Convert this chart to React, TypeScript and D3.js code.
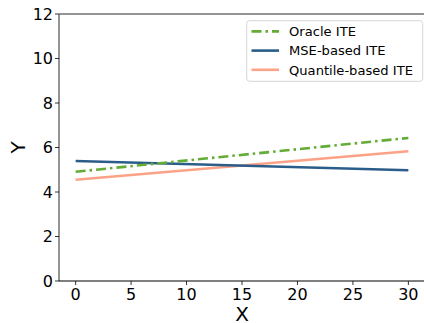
import { useEffect, useRef } from "react";
import * as d3 from "d3";

const xs = [0, 30];
const oracleITE = [4.91, 6.43];
const mseITE = [5.39, 4.98];
const quantileITE = [4.55, 5.83];

const xTicks = [0, 5, 10, 15, 20, 25, 30];
const yTicks = [0, 2, 4, 6, 8, 10, 12];

const seriesNames = ["Oracle ITE", "MSE-based ITE", "Quantile-based ITE"];

export default function App() {
  const ref = useRef<SVGSVGElement | null>(null);

  useEffect(() => {
    if (!ref.current) return;
    const width = 424;
    const height = 323;
    const margin = { top: 14, right: -1, bottom: 42, left: 59 };

    const svg = d3.select(ref.current).attr("width", width).attr("height", height);
    svg.selectAll("*").remove();

    const font = "DejaVu Sans, sans-serif";

    const x = d3.scaleLinear().domain([-1.5, 31.5]).range([margin.left, width - margin.right]);
    const y = d3.scaleLinear().domain([0, 12]).range([height - margin.bottom, margin.top]);

    // spines (top and left grey, bottom black)
    svg.append("line")
      .attr("x1", x(-1.5)).attr("x2", width)
      .attr("y1", y(12)).attr("y2", y(12))
      .attr("stroke", "#707070").attr("stroke-width", 1.5);
    svg.append("line")
      .attr("x1", x(-1.5)).attr("x2", x(-1.5))
      .attr("y1", y(12)).attr("y2", y(0))
      .attr("stroke", "#707070").attr("stroke-width", 1.5);
    svg.append("line")
      .attr("x1", x(-1.5)).attr("x2", width)
      .attr("y1", y(0)).attr("y2", y(0))
      .attr("stroke", "#000").attr("stroke-width", 1.2);

    // x ticks
    const xg = svg.append("g");
    xTicks.forEach(t => {
      xg.append("line")
        .attr("x1", x(t)).attr("x2", x(t))
        .attr("y1", y(0)).attr("y2", y(0) + 4)
        .attr("stroke", "#000").attr("stroke-width", 0.8);
      xg.append("text")
        .attr("x", x(t)).attr("y", y(0) + 18.5)
        .attr("text-anchor", "middle")
        .attr("font-family", font).attr("font-size", 16)
        .attr("fill", "#000")
        .text(t);
    });

    // y ticks
    const yg = svg.append("g");
    yTicks.forEach(t => {
      yg.append("line")
        .attr("x1", x(-1.5) - 4).attr("x2", x(-1.5))
        .attr("y1", y(t)).attr("y2", y(t))
        .attr("stroke", "#000").attr("stroke-width", 0.8);
      yg.append("text")
        .attr("x", x(-1.5) - 6).attr("y", y(t))
        .attr("dy", "0.36em")
        .attr("text-anchor", "end")
        .attr("font-family", font).attr("font-size", 16)
        .attr("fill", "#000")
        .text(t);
    });

    // axis labels
    svg.append("text")
      .attr("x", x(15)).attr("y", y(0) + 39.5)
      .attr("text-anchor", "middle")
      .attr("font-family", font).attr("font-size", 20)
      .text("X");
    svg.append("text")
      .attr("transform", `translate(24.5, ${y(6)}) rotate(-90)`)
      .attr("text-anchor", "middle")
      .attr("font-family", font).attr("font-size", 20)
      .text("Y");

    // lines
    const line = d3.line<[number, number]>()
      .x(d => x(d[0]))
      .y(d => y(d[1]));

    const styles = [
      { vals: oracleITE, color: "#63ac36", dash: "10,4,2.5,4" },
      { vals: mseITE, color: "#2b5d8a", dash: null },
      { vals: quantileITE, color: "#fca287", dash: null },
    ];

    const drawOrder = [2, 1, 0];
    drawOrder.forEach(i => {
      const s = styles[i];
      const pts = xs.map((xv, j) => [xv, s.vals[j]] as [number, number]);
      const p = svg.append("path")
        .datum(pts)
        .attr("d", line)
        .attr("fill", "none")
        .attr("stroke", s.color)
        .attr("stroke-width", 2.6);
      if (s.dash) p.attr("stroke-dasharray", s.dash);
    });

    // legend
    const lg = svg.append("g");
    lg.append("rect")
      .attr("x", 246.7).attr("y", 20.7)
      .attr("width", 176).attr("height", 60.6)
      .attr("rx", 3)
      .attr("fill", "#fff").attr("fill-opacity", 0.8)
      .attr("stroke", "#d6d6d6").attr("stroke-width", 1);
    seriesNames.forEach((name, i) => {
      const ly = 31.4 + i * 19.2;
      const s = styles[i];
      const l = lg.append("line")
        .attr("x1", 251.5).attr("x2", 279)
        .attr("y1", ly).attr("y2", ly)
        .attr("stroke", s.color).attr("stroke-width", 2.6);
      if (s.dash) l.attr("stroke-dasharray", s.dash);
      lg.append("text")
        .attr("x", 289).attr("y", ly)
        .attr("dy", "0.36em")
        .attr("font-family", font).attr("font-size", 13.1)
        .attr("fill", "#000")
        .text(name);
    });
  }, []);

  return (
    <div style={{ position: "absolute", left: 0, top: 0 }}>
      <svg ref={ref}></svg>
    </div>
  );
}
